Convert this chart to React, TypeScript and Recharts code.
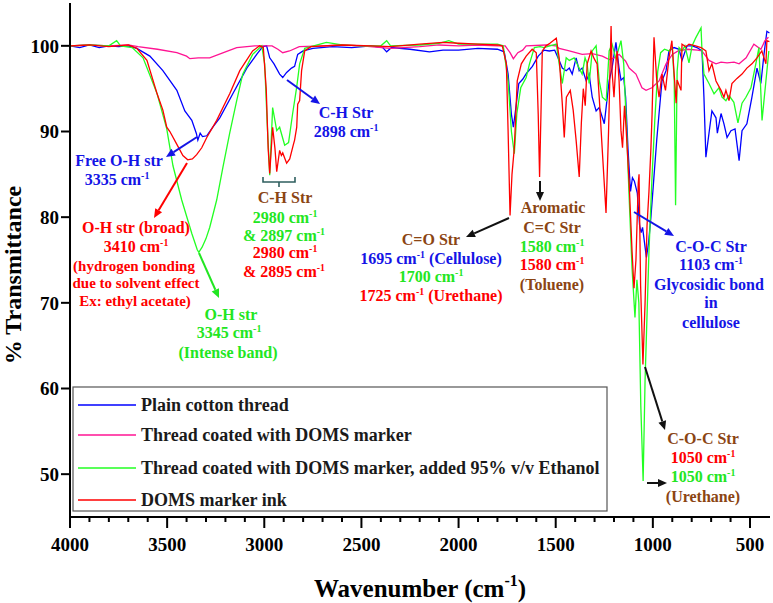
import React from 'react';
import { LineChart, Line, XAxis, YAxis } from 'recharts';

type Pt = [number, number];

// Wavenumber (cm-1), % transmittance
const plainCotton: Pt[] = [
  [4000, 100], [3950, 99.8], [3900, 100.1], [3850, 99.8], [3800, 100], [3750, 99.9], [3700, 100],
  [3656, 99.7], [3589, 98.8], [3522, 97.1], [3450, 94.8], [3409, 92.4], [3373, 91.3], [3350, 89.8],
  [3342, 89], [3330, 89.8], [3318, 89.4], [3296, 89.5], [3265, 90.5], [3229, 91.6], [3162, 94.4],
  [3090, 97.4], [3039, 99], [3008, 99.9], [2988, 100], [2972, 98.6], [2950, 97.9], [2921, 96.7],
  [2905, 96.3], [2885, 96.9], [2860, 97.4], [2844, 97.6], [2828, 99], [2800, 99.4], [2750, 99.7],
  [2650, 99.9], [2550, 99.8], [2450, 100], [2390, 99.8], [2370, 99.3], [2345, 99.8], [2250, 99.6],
  [2150, 99.3], [2080, 99.5], [2000, 99.5], [1900, 99.7], [1800, 99.6], [1765, 99.3], [1745, 96.7],
  [1728, 92], [1718, 90.5], [1705, 92.8], [1690, 95.6], [1670, 96.1], [1650, 96.8], [1620, 97.6],
  [1590, 98.8], [1560, 99.5], [1533, 99.4], [1505, 99.5], [1482, 98.3], [1466, 97.4], [1446, 97.1],
  [1430, 97.4], [1415, 96.7], [1395, 98.6], [1379, 97.1], [1364, 97.4], [1343, 95.9], [1328, 96.7],
  [1312, 94], [1292, 92.4], [1276, 92.8], [1250, 90.9], [1225, 95.9], [1210, 97.4], [1190, 100.4],
  [1174, 97.4], [1164, 96], [1150, 96.3], [1140, 94], [1128, 88], [1115, 83], [1105, 84.6],
  [1095, 84.2], [1080, 82.8], [1068, 79], [1060, 78.2], [1053, 78.8], [1040, 76.5], [1033, 75.3],
  [1022, 77], [1010, 80], [995, 84.5], [980, 89], [968, 92.1], [953, 95.9], [932, 97.1],
  [917, 99.4], [891, 99.8], [865, 99.6], [850, 98.3], [824, 100], [798, 100], [773, 99.8],
  [747, 99.4], [737, 94], [727, 87], [711, 89.8], [696, 92.4], [675, 91.6], [668, 89.8],
  [649, 92.1], [634, 90.9], [618, 89.3], [598, 90.1], [577, 90.3], [556, 86.6], [541, 90.1],
  [516, 90.9], [490, 94], [464, 97.4], [444, 95.6], [428, 99], [413, 101.7], [400, 101.5],
];

const coatedMarker: Pt[] = [
  [4000, 100], [3900, 100.1], [3800, 100], [3700, 100.1], [3650, 99.9], [3550, 99.6], [3450, 99.2],
  [3400, 98.8], [3383, 98.5], [3340, 98.6], [3281, 98.6], [3200, 99.3], [3142, 99.8], [3050, 100],
  [2960, 100], [2930, 99.6], [2905, 99.2], [2870, 99.4], [2820, 99.9], [2700, 100], [2600, 100.1],
  [2500, 100], [2350, 99.7], [2200, 99.9], [2100, 100.1], [2000, 100], [1900, 100.1], [1800, 100],
  [1760, 100], [1735, 99.2], [1718, 98.5], [1695, 99.2], [1670, 99.5], [1652, 100], [1550, 100.1],
  [1500, 100], [1482, 99.7], [1430, 99.4], [1364, 99], [1312, 99.1], [1260, 98.8], [1225, 98.4],
  [1200, 98.6], [1174, 99], [1140, 98.2], [1122, 97.4], [1087, 96.7], [1056, 95.1], [1035, 94.8],
  [1005, 95.1], [968, 95.9], [932, 97.9], [900, 99], [870, 99.4], [820, 99.6], [770, 99.5],
  [747, 99.4], [711, 98.3], [675, 97.9], [649, 98.1], [618, 98], [582, 98.1], [556, 97.9],
  [520, 98.6], [480, 100.2], [444, 99.6], [423, 100.6], [405, 101],
];

const coatedEthanol: Pt[] = [
  [4000, 100], [3900, 100.1], [3800, 100], [3760, 100.6], [3740, 100], [3680, 99.8], [3624, 98.6],
  [3553, 94.5], [3502, 90.3], [3470, 86], [3425, 82], [3373, 78.1], [3345, 76.2], [3337, 75.9],
  [3320, 76.5], [3300, 77.5], [3281, 78.8], [3245, 82], [3213, 85.8], [3178, 89.8], [3142, 93.6],
  [3111, 96.7], [3060, 99], [3013, 100], [2998, 97.9], [2985, 91], [2972, 84.9], [2957, 92.8],
  [2936, 90.1], [2921, 90.5], [2895, 88.4], [2875, 88.7], [2854, 92.1], [2833, 95.2], [2818, 97.9],
  [2792, 99.7], [2680, 100.4], [2600, 100.1], [2500, 100], [2400, 100], [2370, 100.6], [2350, 100],
  [2200, 100.1], [2100, 100.3], [2050, 100.6], [2000, 100.2], [1900, 100.2], [1800, 100.2],
  [1770, 100], [1745, 95.9], [1728, 90], [1713, 87.4], [1700, 92.1], [1680, 95.1], [1652, 96.3],
  [1635, 97.9], [1610, 99.8], [1580, 99.9], [1560, 99.8], [1530, 100], [1497, 100.2], [1482, 97.9],
  [1466, 95.6], [1446, 98.6], [1430, 98.3], [1405, 98.6], [1390, 97.9], [1364, 96.7], [1349, 98.6],
  [1338, 97.9], [1328, 95.6], [1312, 99.4], [1292, 100], [1276, 95.9], [1260, 94], [1240, 93.6],
  [1225, 99.4], [1210, 100.2], [1190, 98.5], [1164, 100.6], [1150, 97.9], [1135, 90.1], [1122, 82.3],
  [1107, 74], [1092, 68.3], [1082, 72.7], [1072, 70], [1062, 58], [1050, 49.2], [1040, 61],
  [1020, 76], [1005, 84.3], [990, 91.3], [975, 97], [960, 99.2], [940, 99.6], [917, 99.4],
  [900, 99.8], [890, 96], [883, 81.4], [875, 97], [865, 99.8], [850, 99.4], [835, 100], [814, 98],
  [798, 100], [780, 100.9], [752, 102.1], [747, 99.4], [737, 96.7], [711, 95.6], [685, 94.4],
  [660, 95.1], [644, 94], [624, 93.6], [608, 94.2], [583, 93.4], [562, 91], [541, 93.3],
  [521, 94], [495, 95.1], [470, 97.9], [454, 99.8], [438, 91.3], [418, 95.9], [403, 99.4],
];

const markerInk: Pt[] = [
  [4000, 100], [3900, 100.1], [3800, 99.9], [3700, 100.1], [3656, 99.7], [3604, 98.3], [3553, 94.5],
  [3522, 92.5], [3502, 90.5], [3486, 90], [3450, 88.5], [3419, 87.2], [3394, 86.7], [3370, 86.8],
  [3348, 87.3], [3322, 88.1], [3296, 89.3], [3245, 91.3], [3178, 94.4], [3126, 97.1], [3060, 99.4],
  [3024, 100], [3005, 99.8], [2990, 95], [2980, 88], [2972, 85.1], [2957, 90.5], [2945, 88],
  [2936, 85.3], [2921, 87.8], [2912, 87.2], [2905, 87.5], [2885, 86.3], [2869, 86.8], [2850, 88.5],
  [2844, 89], [2833, 90.5], [2828, 93.2], [2818, 93.6], [2808, 97.1], [2792, 99.4], [2760, 99.9],
  [2600, 100.1], [2450, 100], [2350, 99.9], [2200, 100.2], [2080, 100.4], [2000, 100.3],
  [1900, 100.2], [1800, 100.1], [1775, 100], [1754, 97.9], [1745, 90], [1735, 80.2], [1725, 85],
  [1713, 88.1], [1698, 95.9], [1677, 97.9], [1652, 98.8], [1621, 99.6], [1600, 99.2], [1590, 92],
  [1583, 84.7], [1575, 93], [1569, 99.4], [1550, 100], [1530, 100.3], [1497, 100.9], [1482, 98.6],
  [1466, 93.2], [1456, 89.3], [1445, 94], [1425, 94.8], [1410, 92.5], [1395, 89], [1379, 84.7],
  [1368, 91], [1358, 95], [1348, 93], [1338, 97.9], [1318, 99.4], [1302, 98.5], [1287, 97.9],
  [1276, 94], [1261, 88.1], [1241, 80.5], [1228, 90], [1215, 102.3], [1210, 97], [1200, 94],
  [1190, 98], [1184, 99.4], [1174, 96], [1164, 90.1], [1156, 88.1], [1146, 93], [1138, 90.5],
  [1122, 84], [1107, 76], [1097, 71.7], [1087, 75], [1075, 84], [1071, 85], [1063, 72],
  [1051, 62.8], [1040, 70], [1030, 79], [1020, 83], [1010, 88], [1004, 92], [994, 101],
  [980, 96], [968, 94], [953, 96.7], [935, 94.8], [917, 98.6], [902, 100.6], [880, 93.3],
  [875, 96], [855, 94.8], [850, 100.2], [830, 99.9], [814, 100.2], [780, 100], [752, 99.8],
  [727, 99.4], [711, 97.1], [696, 97.9], [675, 95.9], [649, 94.8], [634, 94], [624, 94.8],
  [608, 93.6], [593, 95.6], [567, 96.2], [541, 96.7], [516, 97.4], [490, 97.9], [464, 98.6],
  [439, 99.4], [418, 97.9], [413, 100.6], [400, 100.5],
];

const seriesNames = [
  'Plain cotton thread',
  'Thread coated with DOMS marker',
  'Thread coated with DOMS marker, added 95% v/v Ethanol',
  'DOMS marker ink',
];
const seriesColors = ['#0000ff', '#ff1493', '#22ff22', '#ff0000'];
const seriesData = [plainCotton, coatedMarker, coatedEthanol, markerInk];

const xTickLabels = [4000, 3500, 3000, 2500, 2000, 1500, 1000, 500];
const yTickLabels = [50, 60, 70, 80, 90, 100];

const xAllTicks: number[] = [];
for (let v = 4000; v >= 500; v -= 100) xAllTicks.push(v);

const FONT = "'Liberation Serif', 'Times New Roman', serif";
const W = 773;
const H = 603;

const toRows = (pts: Pt[]) => pts.map(([wn, t]) => ({ wn, t }));

const XTick = (props: any) => {
  const { x, y, payload } = props;
  const major = xTickLabels.includes(payload.value);
  return (
    <g>
      <line x1={x} x2={x} y1={y} y2={y + (major ? 11 : 5)} stroke="#000" strokeWidth={2} />
      {major && (
        <text x={x} y={y + 34} textAnchor="middle" fontFamily={FONT} fontWeight={700} fontSize={19} fill="#000">
          {payload.value}
        </text>
      )}
    </g>
  );
};

const BLUE = '#1414e6';
const RED = '#ff0000';
const GREEN = '#22e622';
const BROWN = '#8b4513';
const DARK = '#111';

type Ann = { t: string; c: string; x: number; y: number; fs?: number };

const annotations: Ann[] = [
  { t: 'C-H Str', c: BLUE, x: 346, y: 118 },
  { t: '2898 cm-1', c: BLUE, x: 346, y: 137 },
  { t: 'Free O-H str', c: BLUE, x: 119, y: 166 },
  { t: '3335 cm-1', c: BLUE, x: 117, y: 185 },
  { t: 'O-H str (broad)', c: RED, x: 136, y: 233 },
  { t: '3410 cm-1', c: RED, x: 136, y: 252 },
  { t: '(hydrogen bonding', c: RED, x: 134, y: 271, fs: 15 },
  { t: 'due to solvent effect', c: RED, x: 136, y: 288, fs: 15 },
  { t: 'Ex: ethyl acetate)', c: RED, x: 135, y: 306, fs: 15 },
  { t: 'O-H str', c: GREEN, x: 231, y: 320 },
  { t: '3345 cm-1', c: GREEN, x: 229, y: 338 },
  { t: '(Intense band)', c: GREEN, x: 228, y: 358 },
  { t: 'C-H Str', c: BROWN, x: 285, y: 203 },
  { t: '2980 cm-1', c: GREEN, x: 285, y: 223 },
  { t: '& 2897 cm-1', c: GREEN, x: 284, y: 241 },
  { t: '2980 cm-1', c: RED, x: 285, y: 258 },
  { t: '& 2895 cm-1', c: RED, x: 284, y: 277 },
  { t: 'C=O Str', c: BROWN, x: 431, y: 245 },
  { t: '1695 cm-1 (Cellulose)', c: BLUE, x: 431, y: 264 },
  { t: '1700 cm-1', c: GREEN, x: 431, y: 282 },
  { t: '1725 cm-1 (Urethane)', c: RED, x: 431, y: 301 },
  { t: 'Aromatic', c: BROWN, x: 553, y: 213 },
  { t: 'C=C Str', c: BROWN, x: 552, y: 233 },
  { t: '1580 cm-1', c: GREEN, x: 552, y: 252 },
  { t: '1580 cm-1', c: RED, x: 552, y: 270 },
  { t: '(Toluene)', c: BROWN, x: 552, y: 290 },
  { t: 'C-O-C Str', c: BLUE, x: 711, y: 252 },
  { t: '1103 cm-1', c: BLUE, x: 711, y: 270 },
  { t: 'Glycosidic bond', c: BLUE, x: 709, y: 290 },
  { t: 'in', c: BLUE, x: 711, y: 308 },
  { t: 'cellulose', c: BLUE, x: 711, y: 328 },
  { t: 'C-O-C Str', c: BROWN, x: 703, y: 444 },
  { t: '1050 cm-1', c: RED, x: 703, y: 463 },
  { t: '1050 cm-1', c: GREEN, x: 703, y: 482 },
  { t: '(Urethane)', c: BROWN, x: 703, y: 502 },
];

type Arrow = { x1: number; y1: number; x2: number; y2: number; c: string };
const arrows: Arrow[] = [
  { x1: 287, y1: 80, x2: 320, y2: 104, c: BLUE },
  { x1: 197, y1: 137, x2: 166, y2: 157, c: BLUE },
  { x1: 187, y1: 163, x2: 154, y2: 218, c: RED },
  { x1: 199, y1: 253, x2: 219, y2: 298, c: GREEN },
  { x1: 509, y1: 218, x2: 466, y2: 237, c: DARK },
  { x1: 540, y1: 181, x2: 540, y2: 201, c: DARK },
  { x1: 634, y1: 212, x2: 674, y2: 236, c: BLUE },
  { x1: 645, y1: 367, x2: 665, y2: 430, c: DARK },
  { x1: 647, y1: 483, x2: 667, y2: 483, c: DARK },
];

const Rich = ({ t, fs }: { t: string; fs: number }) => {
  const parts = t.split('cm-1');
  const out: React.ReactNode[] = [];
  parts.forEach((p, i) => {
    if (i > 0) {
      out.push(<tspan key={'s' + i} dy={-fs * 0.4} fontSize={fs * 0.62}>-1</tspan>);
      out.push(<tspan key={'p' + i} dy={fs * 0.4}>{p}</tspan>);
    } else {
      out.push(<tspan key={'p' + i}>{p.length ? p : ''}</tspan>);
    }
    if (i < parts.length - 1) out.push(<tspan key={'c' + i}>cm</tspan>);
  });
  return <>{out}</>;
};

const ArrowMark = ({ a }: { a: Arrow }) => {
  const dx = a.x2 - a.x1;
  const dy = a.y2 - a.y1;
  const len = Math.sqrt(dx * dx + dy * dy);
  const ux = dx / len;
  const uy = dy / len;
  const hl = 9;
  const hw = 4;
  const bx = a.x2 - ux * hl;
  const by = a.y2 - uy * hl;
  const p1 = `${a.x2},${a.y2}`;
  const p2 = `${bx - uy * hw},${by + ux * hw}`;
  const p3 = `${bx + uy * hw},${by - ux * hw}`;
  return (
    <g>
      <line x1={a.x1} y1={a.y1} x2={bx} y2={by} stroke={a.c} strokeWidth={2} />
      <polygon points={`${p1} ${p2} ${p3}`} fill={a.c} />
    </g>
  );
};

const Overlay = () => (
  <svg width={W} height={H} style={{ position: 'absolute', left: 0, top: 0, pointerEvents: 'none' }}>
    {annotations.map((a, i) => {
      const fs = a.fs ?? 16;
      return (
        <text key={i} x={a.x} y={a.y} textAnchor="middle" fontFamily={FONT} fontWeight={700} fontSize={fs} fill={a.c}>
          <Rich t={a.t} fs={fs} />
        </text>
      );
    })}
    {arrows.map((a, i) => (
      <ArrowMark key={i} a={a} />
    ))}
    {/* bracket for C-H Str */}
    <path d="M263,177 L263,182 L295,182 L295,177 M279,182 L279,187" stroke="#2f5f5f" strokeWidth={1.6} fill="none" />
    {/* legend */}
    <rect x={73} y={387} width={534} height={124} fill="#fff" stroke="#555" strokeWidth={1.2} />
    {seriesNames.map((n, i) => {
      const cy = [405, 435, 468, 500][i];
      return (
        <g key={n}>
          <line x1={78} x2={136} y1={cy} y2={cy} stroke={seriesColors[i]} strokeWidth={1.5} />
          <text x={141} y={cy + 6} fontFamily={FONT} fontWeight={700} fontSize={18} fill="#1a1a1a">
            {n}
          </text>
        </g>
      );
    })}
    {/* axis titles */}
    <text x={420} y={597} textAnchor="middle" fontFamily={FONT} fontWeight={700} fontSize={25} fill="#000">
      Wavenumber (cm<tspan dy={-11} fontSize={16}>-1</tspan><tspan dy={11}>)</tspan>
    </text>
    <text
      x={21}
      y={275}
      textAnchor="middle"
      transform="rotate(-90, 21, 275)"
      fontFamily={FONT}
      fontWeight={700}
      fontSize={24}
      fill="#000"
    >
      % Transmittance
    </text>
  </svg>
);

export default function App() {
  return (
    <div style={{ position: 'absolute', left: 0, top: 0, width: W, height: H, background: '#fff' }}>
      <LineChart width={W} height={H} margin={{ top: 3, right: 3, bottom: 46, left: 0 }}>
        <XAxis
          dataKey="wn"
          type="number"
          domain={[397, 4000]}
          reversed
          allowDataOverflow
          ticks={xAllTicks}
          interval={0}
          height={40}
          tickSize={0}
          tickMargin={0}
          tickLine={false}
          axisLine={{ stroke: '#000', strokeWidth: 2 }}
          tick={<XTick />}
        />
        <XAxis
          xAxisId="top"
          orientation="top"
          dataKey="wn"
          type="number"
          domain={[397, 4000]}
          reversed
          allowDataOverflow
          height={0}
          tick={false}
          tickLine={false}
          axisLine={{ stroke: '#000', strokeWidth: 2 }}
        />
        <YAxis
          type="number"
          domain={[45, 105]}
          allowDataOverflow
          ticks={yTickLabels}
          interval={0}
          width={70}
          tickSize={9}
          tickLine={{ stroke: '#000', strokeWidth: 2 }}
          axisLine={{ stroke: '#000', strokeWidth: 2 }}
          tick={{ fontSize: 19, fontWeight: 700, fill: '#000', fontFamily: FONT }}
        />
        <YAxis
          yAxisId="right"
          orientation="right"
          type="number"
          domain={[45, 105]}
          allowDataOverflow
          width={0}
          tick={false}
          tickLine={false}
          axisLine={{ stroke: '#000', strokeWidth: 2 }}
        />
        {seriesData.map((pts, i) => (
          <Line
            key={seriesNames[i]}
            data={toRows(pts)}
            dataKey="t"
            name={seriesNames[i]}
            type="linear"
            stroke={seriesColors[i]}
            strokeWidth={1.3}
            dot={false}
            activeDot={false}
            isAnimationActive={false}
          />
        ))}
      </LineChart>
      <Overlay />
    </div>
  );
}
